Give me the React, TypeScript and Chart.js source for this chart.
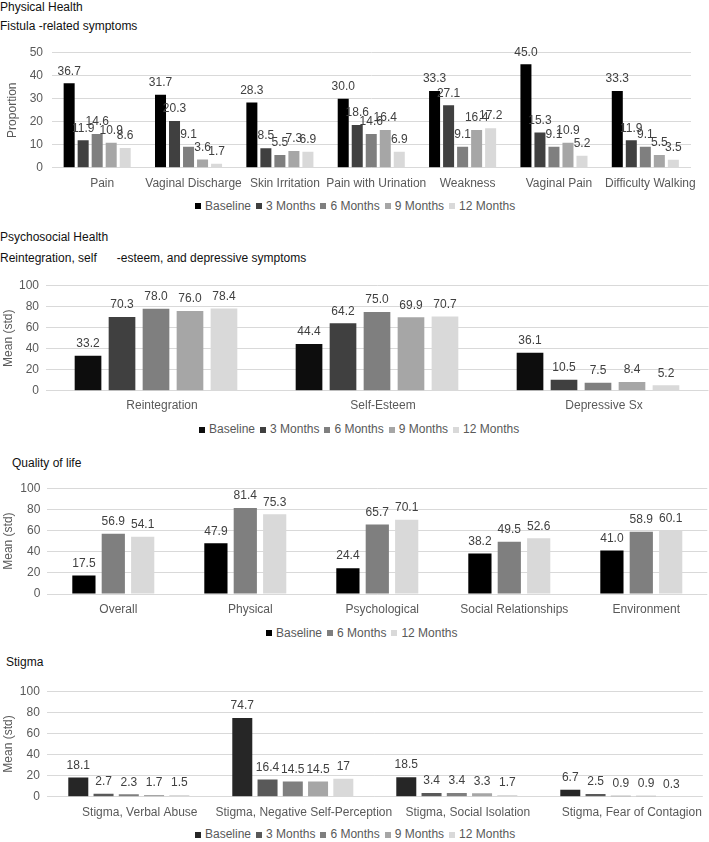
import React, { useEffect, useRef } from 'react';
import { Chart, registerables } from 'chart.js';

Chart.register(...registerables);

const FONT = '"Liberation Sans", Arial, Helvetica, sans-serif';

// ---------- Panel 1: Fistula-related symptoms ----------
const symptomCategories = ['Pain', 'Vaginal Discharge', 'Skin Irritation', 'Pain with Urination', 'Weakness', 'Vaginal Pain', 'Difficulty Walking'];
const symptomBaseline = [36.7, 31.7, 28.3, 30.0, 33.3, 45.0, 33.3];
const symptom3m = [11.9, 20.3, 8.5, 18.6, 27.1, 15.3, 11.9];
const symptom6m = [14.6, 9.1, 5.5, 14.6, 9.1, 9.1, 9.1];
const symptom9m = [10.9, 3.6, 7.3, 16.4, 16.4, 10.9, 5.5];
const symptom12m = [8.6, 1.7, 6.9, 6.9, 17.2, 5.2, 3.5];

// ---------- Panel 2: Reintegration, self-esteem, depressive symptoms ----------
const psychCategories = ['Reintegration', 'Self-Esteem', 'Depressive Sx'];
const psychBaseline = [33.2, 44.4, 36.1];
const psych3m = [70.3, 64.2, 10.5];
const psych6m = [78.0, 75.0, 7.5];
const psych9m = [76.0, 69.9, 8.4];
const psych12m = [78.4, 70.7, 5.2];

// ---------- Panel 3: Quality of life ----------
const qolCategories = ['Overall', 'Physical', 'Psychological', 'Social Relationships', 'Environment'];
const qolBaseline = [17.5, 47.9, 24.4, 38.2, 41.0];
const qol6m = [56.9, 81.4, 65.7, 49.5, 58.9];
const qol12m = [54.1, 75.3, 70.1, 52.6, 60.1];

// ---------- Panel 4: Stigma ----------
const stigmaCategories = ['Stigma, Verbal Abuse', 'Stigma, Negative Self-Perception', 'Stigma, Social Isolation', 'Stigma, Fear of Contagion'];
const stigmaBaseline = [18.1, 74.7, 18.5, 6.7];
const stigma3m = [2.7, 16.4, 3.4, 2.5];
const stigma6m = [2.3, 14.5, 3.4, 0.9];
const stigma9m = [1.7, 14.5, 3.3, 0.9];
const stigma12m = [1.5, 17, 1.7, 0.3];

const seriesNames = ['Baseline', '3 Months', '6 Months', '9 Months', '12 Months'];

type Series = { name: string; values: number[]; color: string };
type Layout = { top: number; height: number; chartTop: number; chartBottom: number; chartLeft: number; chartRight: number };

type PanelProps = {
  labels: string[];
  series: Series[];
  layout: Layout;
  yMax: number;
  yStep: number;
  yTitle: string;
  titlePad: number;
  tickPad: number;
  xPad: number;
  labelOffset: number;
  cp: number;
  bp: number;
  fmt: (v: number) => string;
};

function BarPanel(props: PanelProps) {
  const ref = useRef<HTMLCanvasElement | null>(null);
  const L = props.layout;
  useEffect(() => {
    const padTop = L.chartTop - L.top;
    const xAxisH = L.top + L.height - L.chartBottom;
    const fmt = props.fmt;
    const labelPlugin = {
      id: 'valueLabels',
      afterDatasetsDraw(chart: any) {
        const ctx = chart.ctx;
        ctx.save();
        ctx.font = '12px ' + FONT;
        ctx.fillStyle = '#404040';
        ctx.textAlign = 'center';
        ctx.textBaseline = 'middle';
        chart.data.datasets.forEach((ds: any, i: number) => {
          const meta = chart.getDatasetMeta(i);
          meta.data.forEach((el: any, j: number) => {
            ctx.fillText(fmt(ds.data[j]), el.x, el.y - 12);
          });
        });
        ctx.restore();
      },
    };
    const font = { size: 12, family: FONT };
    const chart = new Chart(ref.current as HTMLCanvasElement, {
      type: 'bar',
      data: {
        labels: props.labels,
        datasets: props.series.map((s) => ({
          label: s.name,
          data: s.values,
          backgroundColor: s.color,
          borderWidth: 0,
          categoryPercentage: props.cp,
          barPercentage: props.bp,
        })),
      },
      options: {
        responsive: false,
        animation: false,
        devicePixelRatio: 1,
        layout: { padding: { top: padTop, left: 0, right: 709 - L.chartRight, bottom: 0 } },
        plugins: {
          legend: { display: false },
          tooltip: { enabled: false },
        },
        scales: {
          x: {
            grid: { display: false },
            border: { display: false },
            ticks: {
              color: '#595959',
              font,
              autoSkip: false,
              maxRotation: 0,
              minRotation: 0,
              padding: props.xPad,
              labelOffset: props.labelOffset,
            },
            afterFit: (s: any) => {
              s.height = xAxisH;
            },
          },
          y: {
            min: 0,
            max: props.yMax,
            ticks: { stepSize: props.yStep, color: '#595959', font, padding: props.tickPad },
            grid: { color: '#d9d9d9', drawTicks: false, lineWidth: 1 },
            border: { display: false },
            title: {
              display: true,
              text: props.yTitle,
              color: '#595959',
              font,
              padding: { top: props.titlePad, bottom: 0 },
            },
            afterFit: (s: any) => {
              s.width = L.chartLeft;
            },
          },
        },
      } as any,
      plugins: [labelPlugin],
    });
    return () => chart.destroy();
  }, []);
  return (
    <canvas
      ref={ref}
      width={709}
      height={L.height}
      style={{ position: 'absolute', left: 0, top: L.top, display: 'block' }}
    />
  );
}

function Legend(props: { items: { name: string; color: string }[]; left: number; cy: number }) {
  return (
    <div
      style={{
        position: 'absolute',
        left: props.left,
        top: props.cy - 7,
        height: 14,
        lineHeight: '14px',
        display: 'flex',
        alignItems: 'center',
        font: '12px ' + FONT,
        color: '#595959',
        whiteSpace: 'pre',
      }}
    >
      {props.items.map((it, i) => (
        <span key={i} style={{ display: 'flex', alignItems: 'center', marginRight: i < props.items.length - 1 ? 5 : 0 }}>
          <span style={{ display: 'inline-block', width: 6, height: 6, background: it.color, marginRight: 4, marginTop: 1 }} />
          <span>{it.name}</span>
        </span>
      ))}
    </div>
  );
}

const headingStyle: React.CSSProperties = {
  position: 'absolute',
  font: '12px ' + FONT,
  lineHeight: '14px',
  color: '#111',
  whiteSpace: 'pre',
};

const fixed1 = (v: number) => v.toFixed(1);
const plain = (v: number) => String(v);

export default function App() {
  const grays5 = ['#000000', '#404040', '#7f7f7f', '#a6a6a6', '#d9d9d9'];
  const grays5b = ['#0d0d0d', '#404040', '#7f7f7f', '#a6a6a6', '#d9d9d9'];
  const grays5c = ['#262626', '#595959', '#7f7f7f', '#a6a6a6', '#d9d9d9'];
  const symptomVals = [symptomBaseline, symptom3m, symptom6m, symptom9m, symptom12m];
  const psychVals = [psychBaseline, psych3m, psych6m, psych9m, psych12m];
  const stigmaVals = [stigmaBaseline, stigma3m, stigma6m, stigma9m, stigma12m];

  const s1 = symptomVals.map((v, i) => ({ name: seriesNames[i], values: v, color: grays5[i] }));
  const s2 = psychVals.map((v, i) => ({ name: seriesNames[i], values: v, color: grays5b[i] }));
  const s3 = [
    { name: 'Baseline', values: qolBaseline, color: '#000000' },
    { name: '6 Months', values: qol6m, color: '#7f7f7f' },
    { name: '12 Months', values: qol12m, color: '#d9d9d9' },
  ];
  const s4 = stigmaVals.map((v, i) => ({ name: seriesNames[i], values: v, color: grays5c[i] }));

  return (
    <div style={{ position: 'absolute', left: 0, top: 0, width: 709, height: 842, overflow: 'hidden', background: '#fff' }}>
      <div style={{ ...headingStyle, left: 0, top: 0 }}>Physical Health</div>
      <div style={{ ...headingStyle, left: 0, top: 19 }}>Fistula -related symptoms</div>
      <BarPanel
        labels={symptomCategories}
        series={s1}
        layout={{ top: 37, height: 156, chartTop: 47.3, chartBottom: 167.7, chartLeft: 51.5, chartRight: 691 }}
        yMax={50}
        yStep={10}
        yTitle="Proportion"
        titlePad={5.8}
        tickPad={8.5}
        xPad={1}
        labelOffset={5}
        cp={0.767}
        bp={0.786}
        fmt={fixed1}
      />
      <Legend items={s1} left={195} cy={205.7} />

      <div style={{ ...headingStyle, left: 0, top: 230 }}>Psychosocial Health</div>
      <div style={{ ...headingStyle, left: 0, top: 251 }}>{'Reintegration, self      -esteem, and depressive symptoms'}</div>
      <BarPanel
        labels={psychCategories}
        series={s2}
        layout={{ top: 272, height: 145, chartTop: 281.7, chartBottom: 390.7, chartLeft: 45.5, chartRight: 708.5 }}
        yMax={100}
        yStep={20}
        yTitle="Mean (std)"
        titlePad={1.8}
        tickPad={6.5}
        xPad={0}
        labelOffset={6}
        cp={0.769}
        bp={0.785}
        fmt={fixed1}
      />
      <Legend items={s2} left={199} cy={429} />

      <div style={{ ...headingStyle, left: 12, top: 456 }}>Quality of life</div>
      <BarPanel
        labels={qolCategories}
        series={s3}
        layout={{ top: 474, height: 146, chartTop: 484, chartBottom: 594, chartLeft: 47.3, chartRight: 707.3 }}
        yMax={100}
        yStep={20}
        yTitle="Mean (std)"
        titlePad={1.8}
        tickPad={7}
        xPad={0.5}
        labelOffset={5}
        cp={0.668}
        bp={0.79}
        fmt={fixed1}
      />
      <Legend items={s3} left={266} cy={632.7} />

      <div style={{ ...headingStyle, left: 6, top: 655 }}>Stigma</div>
      <BarPanel
        labels={stigmaCategories}
        series={s4}
        layout={{ top: 677, height: 146, chartTop: 687.7, chartBottom: 796.7, chartLeft: 46.8, chartRight: 702.8 }}
        yMax={100}
        yStep={20}
        yTitle="Mean (std)"
        titlePad={1.8}
        tickPad={7}
        xPad={1}
        labelOffset={11}
        cp={0.77}
        bp={0.792}
        fmt={plain}
      />
      <Legend items={s4} left={195} cy={834.3} />
    </div>
  );
}
